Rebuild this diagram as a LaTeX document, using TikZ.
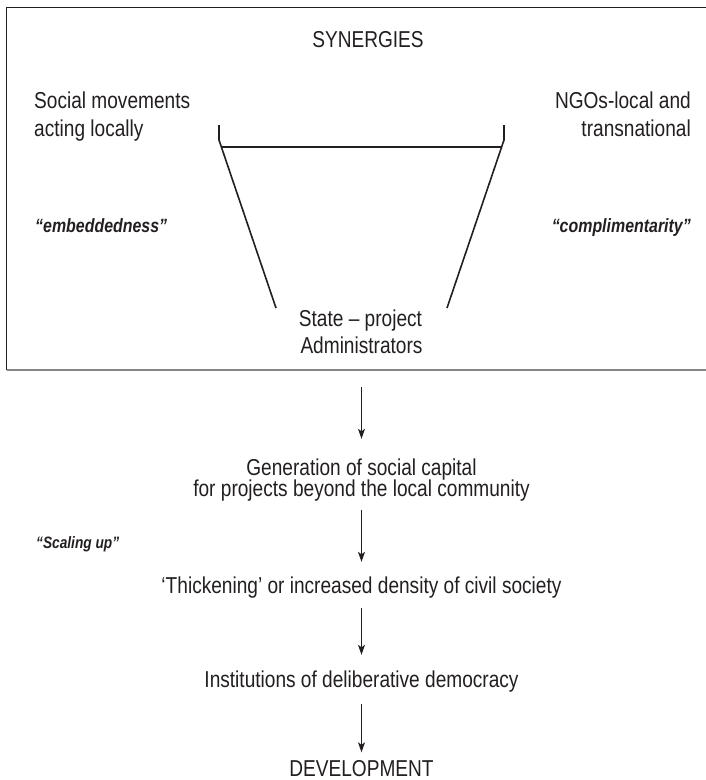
\documentclass[tikz,border=0pt]{standalone}
\usepackage{fontspec}
\setmainfont{Liberation Sans}[FakeStretch=0.83]
\usetikzlibrary{arrows.meta}
\definecolor{ink}{HTML}{231F20}
\definecolor{frameb}{HTML}{858585}
\tikzset{
  maintxt/.style={inner sep=0pt, text=ink, font=\fontsize{23}{27}\selectfont, text height=17pt, text depth=5pt},
  quotetxt/.style={inner sep=0pt, text=ink, font=\fontsize{19.2}{23}\selectfont\bfseries\itshape},
  smallquote/.style={inner sep=0pt, text=ink, font=\fontsize{16.5}{20}\selectfont\bfseries\itshape},
  frameline/.style={draw=ink, line width=1.3pt},
  bracketline/.style={draw=ink, line width=1.6pt},
  flowarrow/.style={draw=ink, line width=1.1pt, -{Stealth[length=10pt,width=7pt,inset=2.5pt]}}
}
\begin{document}
\begin{tikzpicture}[x=1pt,y=-1pt]
\useasboundingbox (0,0) rectangle (706,780);
% frame
\draw[frameline] (712,7.5) -- (6.5,7.5) -- (6.5,369.5);
\draw[draw=frameb, line width=2pt] (6.5,369.5) -- (712,369.5);
% texts in the frame
\node[maintxt, anchor=base] (syn) at (368,47) {SYNERGIES};
\node[maintxt, anchor=base west] (sm1) at (34,108) {Social movements};
\node[maintxt, anchor=base west] (sm2) at (34,136) {acting locally};
\node[maintxt, anchor=base east] (ngo1) at (691,108) {NGOs-local and};
\node[maintxt, anchor=base east] (ngo2) at (691,136) {transnational};
\node[quotetxt, anchor=base west] (emb) at (35,232) {“embeddedness\symbol{34}};
\node[quotetxt, anchor=base east] (comp) at (691,232) {“complimentarity”};
\node[maintxt, anchor=base] (st1) at (360.5,326) {State – project};
\node[maintxt, anchor=base] (st2) at (361.5,353) {Administrators};
% bracket and funnel
\coordinate (lt) at (219,125);
\coordinate (lk) at (219,140);
\coordinate (lb) at (276,308);
\coordinate (rt) at (504,125);
\coordinate (rk) at (504,140);
\coordinate (rb) at (447,308);
\coordinate (hl) at (221,147);
\coordinate (hr) at (502,147);
\draw[bracketline, line join=round] (lt) -- (lk) -- (lb);
\draw[bracketline, line join=round] (rt) -- (rk) -- (rb);
\draw[draw=ink, line width=2pt] (hl) -- (hr);
% lower flow
\node[maintxt, anchor=base] (gen1) at (361.5,475) {Generation of social capital};
\node[maintxt, anchor=base] (gen2) at (361.5,496) {for projects beyond the local community};
\node[smallquote, anchor=base west] (scal) at (36,548) {“Scaling up”};
\node[maintxt, anchor=base] (thick) at (361.5,593) {‘Thickening’ or increased density of civil society};
\node[maintxt, anchor=base] (inst) at (361.5,687) {Institutions of deliberative democracy};
\node[maintxt, anchor=base] (dev) at (361.5,776) {DEVELOPMENT};
\coordinate (a1s) at (361.5,387);
\draw[flowarrow] (a1s) -- ([yshift=19pt]gen1.north);
\draw[flowarrow] ([yshift=-9pt]gen2.south) -- ([yshift=14pt]thick.north);
\draw[flowarrow] ([yshift=-10pt]thick.south) -- ([yshift=15pt]inst.north);
\draw[flowarrow] ([yshift=-12pt]inst.south) -- ([yshift=6.5pt]dev.north);
\end{tikzpicture}
\end{document}
